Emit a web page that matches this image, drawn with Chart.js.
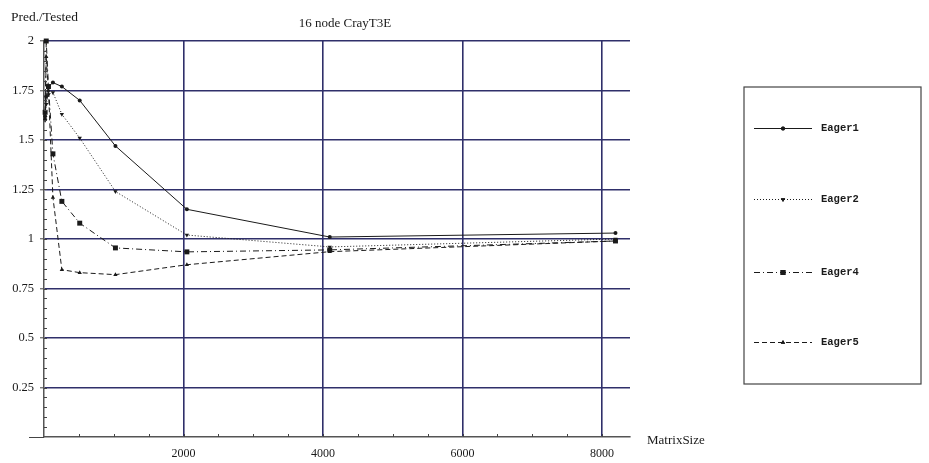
<!DOCTYPE html>
<html>
<head>
<meta charset="utf-8">
<script src="https://cdn.jsdelivr.net/npm/chart.js@4.4.0/dist/chart.umd.min.js"></script>
<style>
  html, body { margin: 0; padding: 0; background: #fff; }
  #wrap { width: 929px; height: 463px; position: relative; }
</style>
</head>
<body>
<div id="wrap"><canvas id="predChart"></canvas></div>
<script>
// matrix sizes (x) and Pred/Tested ratios
const matrixSizes = [16, 32, 64, 128, 256, 512, 1024, 2048, 4096, 8192];
const eager1 = [1.62, 1.72, 1.77, 1.79, 1.77, 1.70, 1.47, 1.15, 1.01, 1.03];
const eager2 = [1.60, 1.68, 1.73, 1.74, 1.63, 1.51, 1.24, 1.02, 0.96, 1.00];
const eager4 = [1.64, 2.00, 1.77, 1.43, 1.19, 1.08, 0.955, 0.935, 0.945, 0.99];
const eager5 = [1.61, 1.92, 1.75, 1.21, 0.845, 0.83, 0.82, 0.87, 0.936, 0.99];

const xTickValues = [2000, 4000, 6000, 8000];
const yTickValues = [0.25, 0.5, 0.75, 1, 1.25, 1.5, 1.75, 2];

const gridColor = '#2f2f6a';
const inkColor = '#1a1a1a';

const toPoints = function (ys) {
  return matrixSizes.map((x, i) => ({ x: x, y: ys[i] }));
}

const makeSet = function (label, ys, dash, pointStyle, radius, rotation) {
  return {
    label: label,
    data: toPoints(ys),
    borderColor: inkColor,
    backgroundColor: inkColor,
    borderWidth: 1,
    borderDash: dash,
    pointStyle: pointStyle,
    pointRadius: radius,
    pointRotation: rotation || 0,
    pointBorderWidth: 0,
    tension: 0,
    clip: false,
  };
}

/**
 * Titles, minor tick marks and the boxed legend on the right.
 * */
const extrasPlugin = {
  id: 'extras',
  afterDraw(chart) {
    const ctx = chart.ctx;
    const area = chart.chartArea;
    const xs = chart.scales.x;
    const ys = chart.scales.y;
    ctx.save();

    // minor ticks
    ctx.strokeStyle = '#444';
    ctx.lineWidth = 1;
    ctx.beginPath();
    for (let v = 0.05; v < 2; v += 0.05) {
      const py = Math.round(ys.getPixelForValue(v)) + 0.5;
      ctx.moveTo(area.left, py);
      ctx.lineTo(area.left + 3, py);
    }
    for (let v = 500; v < 8400; v += 500) {
      const px = Math.round(xs.getPixelForValue(v)) + 0.5;
      ctx.moveTo(px, area.bottom);
      ctx.lineTo(px, area.bottom - 3);
    }
    // x axis runs a bit left of the y axis
    ctx.moveTo(29, area.bottom + 0.5);
    ctx.lineTo(area.left, area.bottom + 0.5);
    ctx.stroke();

    // texts
    ctx.fillStyle = inkColor;
    ctx.textBaseline = 'middle';
    ctx.font = '13.5px "Liberation Serif", serif';
    ctx.textAlign = 'left';
    ctx.fillText('Pred./Tested', 11, 17);
    ctx.font = '13px "Liberation Serif", serif';
    ctx.textAlign = 'center';
    ctx.fillText('16 node CrayT3E', 345, 24);
    ctx.textAlign = 'left';
    ctx.fillText('MatrixSize', 647, 441);

    // legend box
    ctx.strokeStyle = '#444';
    ctx.lineWidth = 1.2;
    ctx.strokeRect(744, 87, 177, 297);

    const rows = [128, 199, 272, 342];
    chart.data.datasets.forEach((ds, i) => {
      const y = rows[i] + 0.5;
      ctx.strokeStyle = ds.borderColor;
      ctx.lineWidth = 1;
      ctx.setLineDash(ds.borderDash);
      ctx.beginPath();
      ctx.moveTo(754, y);
      ctx.lineTo(812, y);
      ctx.stroke();
      ctx.setLineDash([]);
      Chart.helpers.drawPoint(ctx, {
        pointStyle: ds.pointStyle,
        radius: ds.pointRadius,
        rotation: ds.pointRotation,
        borderWidth: 0,
      }, 783, y);
      ctx.fillStyle = inkColor;
      ctx.fill();
      ctx.font = 'bold 10.5px "Liberation Mono", monospace';
      ctx.textAlign = 'left';
      ctx.textBaseline = 'middle';
      ctx.fillText(ds.label, 821, y);
    });
    ctx.restore();
  }
};

const createChart = function (chartId) {
  const ctx = document.getElementById(chartId);
  return new Chart(ctx, {
    type: 'line',
    data: {
      datasets: [
        makeSet('Eager1', eager1, [], 'circle', 2),
        makeSet('Eager2', eager2, [1, 2], 'triangle', 2.5, 180),
        makeSet('Eager4', eager4, [6, 3, 1, 3], 'rect', 3.5),
        makeSet('Eager5', eager5, [5, 3], 'triangle', 2.5),
      ],
    },
    options: {
      responsive: true,
      maintainAspectRatio: false,
      animation: false,
      layout: {
        padding: { left: 0, top: 41, right: 299, bottom: 0 }
      },
      plugins: {
        legend: { display: false },
        tooltip: { enabled: false },
      },
      scales: {
        x: {
          type: 'linear',
          min: 0,
          max: 8400,
          afterBuildTicks: (scale) => {
            scale.ticks = xTickValues.map(v => ({ value: v }));
          },
          afterFit: (scale) => { scale.height = 26; },
          ticks: {
            color: inkColor,
            padding: 10,
            maxRotation: 0,
            font: { family: '"Liberation Serif", serif', size: 12 },
            callback: (v) => String(v),
          },
          grid: {
            color: gridColor,
            lineWidth: 1.6,
            drawTicks: false,
          },
          border: { color: '#555', width: 1.5 },
        },
        y: {
          min: 0,
          max: 2,
          afterBuildTicks: (scale) => {
            scale.ticks = yTickValues.map(v => ({ value: v }));
          },
          afterFit: (scale) => { scale.width = 44; },
          ticks: {
            color: inkColor,
            padding: 6,
            font: { family: '"Liberation Serif", serif', size: 12.5 },
            callback: (v) => String(v),
          },
          grid: {
            color: gridColor,
            lineWidth: 1.6,
            tickLength: 4,
            tickColor: '#444',
            tickWidth: 1,
          },
          border: { color: '#555', width: 1.5 },
        }
      }
    },
    plugins: [extrasPlugin],
  });
}

let predChart = createChart('predChart');
</script>
</body>
</html>
